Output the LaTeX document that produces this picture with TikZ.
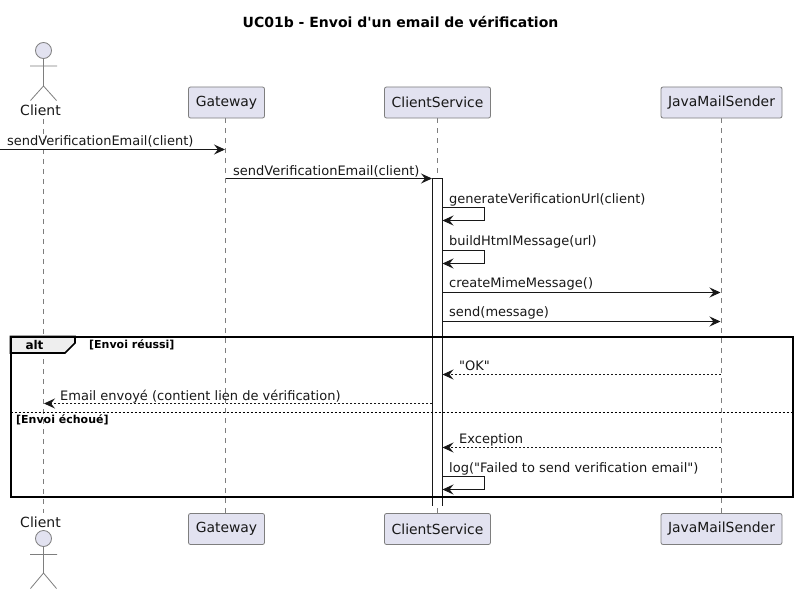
\documentclass[tikz,border=0pt]{standalone}
\usepackage{fontspec}
\setmainfont{DejaVu Sans}
\newfontfamily\dvplain{DejaVu Sans}
\usetikzlibrary{arrows.meta}
\definecolor{partfill}{HTML}{E2E2F0}
\definecolor{partline}{HTML}{7E7E7E}
\definecolor{ink}{HTML}{181818}
\definecolor{tabfill}{HTML}{EEEEEE}
\tikzset{
  x=1pt,y=-1pt,
  part/.style={draw=partline,fill=partfill,rounded corners=2pt,line width=0.8pt,minimum height=31pt,inner sep=0pt,text=ink,font=\dvplain\fontsize{13.9}{16}\selectfont},
  life/.style={draw=partline,line width=0.8pt,dash pattern=on 5pt off 5pt},
  actorline/.style={draw=partline,line width=0.8pt},
  tip/.style={-{Stealth[length=11pt,width=10pt,inset=4pt,color=ink]}},
  msg/.style={draw=ink,line width=1pt,tip},
  ret/.style={draw=ink,line width=1pt,tip,dash pattern=on 2pt off 2pt},
  lab/.style={anchor=base west,inner sep=0pt,text=ink,font=\dvplain\fontsize{13}{16}\selectfont},
  small/.style={anchor=base west,inner sep=0pt,text=black,font=\dvplain\fontsize{11}{12}\selectfont\bfseries},
  actorname/.style={inner sep=0pt,text=ink,font=\dvplain\fontsize{14}{16}\selectfont,anchor=base},
}
\begin{document}
\begin{tikzpicture}
\useasboundingbox (0,0) rectangle (798,594);
\fill[white] (0,0) rectangle (798,594);
\node[inner sep=0pt,anchor=base,font=\dvplain\fontsize{14}{16}\selectfont\bfseries] (title) at (400.5,28) {UC01b - Envoi d'un email de vérification};

% lifelines
\coordinate (ct) at (43.5,119); \coordinate (cb) at (43.5,513);
\coordinate (gt) at (225.5,118); \coordinate (gb) at (225.5,513);
\coordinate (st) at (437.5,118); \coordinate (sb) at (437.5,513);
\coordinate (jt) at (721.5,118); \coordinate (jb) at (721.5,513);
\draw[life] (ct)--(cb); \draw[life] (gt)--(gb); \draw[life] (st)--(sb); \draw[life] (jt)--(jb);

% activation (open at its lower end)
\fill[white] (432.5,178.5) rectangle (442.5,505.5);
\coordinate (aa) at (432.5,505.5); \coordinate (ab) at (432.5,178.5);
\coordinate (ac) at (442.5,178.5); \coordinate (ad) at (442.5,505.5);
\draw[ink,line width=1pt] (aa)--(ab)--(ac)--(ad);

% participants
\node[part,minimum width=76pt] (gw1) at (226.5,102.5) {Gateway};
\node[part,minimum width=106pt] (cs1) at (437.5,102.5) {ClientService};
\node[part,minimum width=121pt] (jm1) at (721.5,102.5) {JavaMailSender};
\node[part,minimum width=76pt] (gw2) at (226.5,529) {Gateway};
\node[part,minimum width=106pt] (cs2) at (437.5,529) {ClientService};
\node[part,minimum width=121pt] (jm2) at (721.5,529) {JavaMailSender};

% actors
\node[circle,draw=partline,fill=partfill,line width=0.8pt,minimum size=16pt,inner sep=0pt] (head1) at (43.5,50.5) {};
\draw[actorline] (head1.south)--(43.5,86) (30,66)--(57,66) (30.5,100.5)--(43.5,86)--(56.5,100.5);
\node[actorname] (cl1) at (40.5,115) {Client};
\node[circle,draw=partline,fill=partfill,line width=0.8pt,minimum size=16pt,inner sep=0pt] (head2) at (43.5,538.5) {};
\draw[actorline] (head2.south)--(43.5,573) (30,554.5)--(57,554.5) (30.5,588.5)--(43.5,573)--(56.5,588.5);
\node[actorname] (cl2) at (40.5,527) {Client};

% frame
\draw[black,line width=1.6pt,fill=tabfill] (10.5,336.5)--(75,336.5)--(75,343)--(65,353)--(10.5,353)--cycle;
\node[draw=black,line width=2pt,outer sep=0pt,minimum width=782.5pt,minimum height=160.5pt,inner sep=0pt,anchor=north west] (frame) at (10.5,336.5) {};
\node[inner sep=0pt,anchor=base,text=black,font=\dvplain\fontsize{12}{16}\selectfont\bfseries] (alt) at (34.5,349.5) {alt};
\node[small] (g1) at (89,348) {[Envoi réussi]};
\node[small] (g2) at (16,423) {[Envoi échoué]};
\coordinate (s1) at (10.5,412.5); \coordinate (s2) at (793,412.5);
\draw[black,line width=1pt,dash pattern=on 2pt off 2pt] (s1)--(s2);

% messages
\coordinate (m0) at (0,149.5); \coordinate (m0e) at (225,149.5);
\draw[msg] (m0)--(m0e);
\node[lab] (t0) at (7,145) {sendVerificationEmail(client)};

\coordinate (m1) at (226,178.5); \coordinate (m1e) at (432,178.5);
\draw[msg] (m1)--(m1e);
\node[lab] (t1) at (233,175) {sendVerificationEmail(client)};

\draw[msg] (442.5,207.5)--(484.5,207.5)--(484.5,220.5)--(442.5,220.5);
\node[lab] (t2) at (449,203.5) {generateVerificationUrl(client)};

\draw[msg] (442.5,250.5)--(484.5,250.5)--(484.5,263.5)--(442.5,263.5);
\node[lab] (t3) at (449,245.5) {buildHtmlMessage(url)};

\draw[msg] (442.5,292.5)--(720.5,292.5);
\node[lab] (t4) at (449,287.5) {createMimeMessage()};

\draw[msg] (442.5,321.5)--(720.5,321.5);
\node[lab] (t5) at (449,316.5) {send(message)};

\draw[ret] (720.5,374.5)--(442.5,374.5);
\node[lab] (t6) at (459,370) {"OK"};

\draw[ret] (432,403.5)--(44,403.5);
\node[lab] (t7) at (60,400) {Email envoyé (contient lien de vérification)};

\draw[ret] (720.5,447.5)--(442.5,447.5);
\node[lab] (t8) at (459,443) {Exception};

\draw[msg] (442.5,476.5)--(484.5,476.5)--(484.5,489.5)--(442.5,489.5);
\node[lab] (t9) at (449,472) {log("Failed to send verification email")};
\end{tikzpicture}
\end{document}
